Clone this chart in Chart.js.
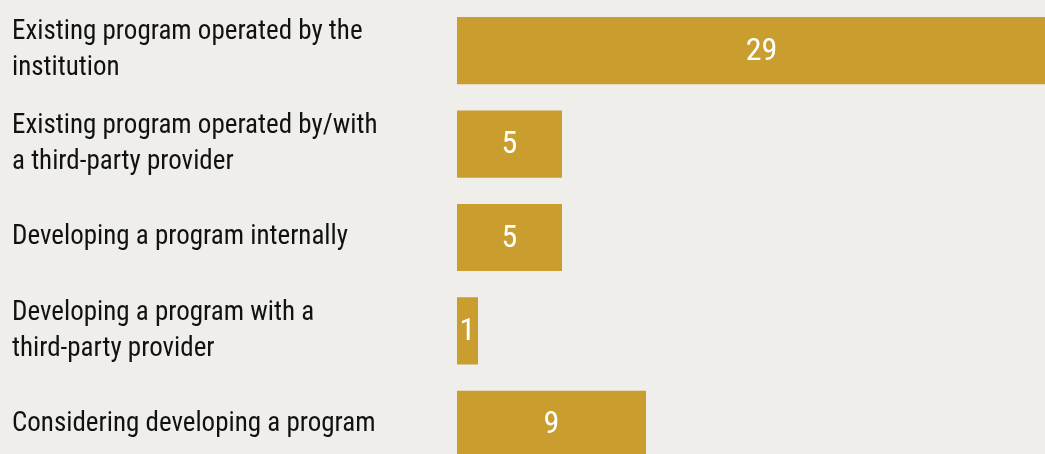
<!DOCTYPE html>
<html>
<head>
<meta charset="utf-8">
<script src="https://cdn.jsdelivr.net/npm/chart.js@4"></script>
<style>
  html, body { margin: 0; padding: 0; overflow: hidden; background: #efeeea; }
  #wrap { position: relative; width: 1066px; height: 471px; }
</style>
</head>
<body>
<div id="wrap"><canvas id="plot"></canvas></div>
<script>
const categories = [
  ["Existing program operated by the", "institution"],
  ["Existing program operated by/with", "a third-party provider"],
  "Developing a program internally",
  ["Developing a program with a", "third-party provider"],
  "Considering developing a program"
];
const counts = [29, 5, 5, 1, 9];

const FONT = "'Roboto Condensed', Roboto, sans-serif";

// white count written in the middle of each bar
const barValues = {
  id: "barValues",
  afterDatasetsDraw(chart) {
    const ctx = chart.ctx;
    const meta = chart.getDatasetMeta(0);
    ctx.save();
    ctx.fillStyle = "#ffffff";
    ctx.font = "32px " + FONT;
    ctx.textAlign = "center";
    ctx.textBaseline = "middle";
    meta.data.forEach((bar, i) => {
      ctx.fillText(String(counts[i]), (bar.x + bar.base) / 2, bar.y + 1);
    });
    ctx.restore();
  }
};

new Chart(document.getElementById("plot"), {
  type: "bar",
  data: {
    labels: categories,
    datasets: [{
      data: counts,
      backgroundColor: "#c99d2e",
      borderWidth: 0,
      barPercentage: 0.72,
      categoryPercentage: 1
    }]
  },
  options: {
    indexAxis: "y",
    responsive: true,
    maintainAspectRatio: false,
    animation: false,
    layout: { padding: { left: 12, top: 4, right: 0, bottom: 0 } },
    plugins: {
      legend: { display: false },
      tooltip: { enabled: false }
    },
    scales: {
      x: {
        display: false,
        min: 0,
        max: 29
      },
      y: {
        grid: { display: false },
        border: { display: false },
        afterFit(scale) {
          scale.width = 445;
          scale.paddingTop = 0;
          scale.paddingBottom = 0;
        },
        ticks: {
          crossAlign: "far",
          color: "#111111",
          font: { family: FONT, size: 27, lineHeight: 1.33 }
        }
      }
    }
  },
  plugins: [barValues]
});
</script>
</body>
</html>
